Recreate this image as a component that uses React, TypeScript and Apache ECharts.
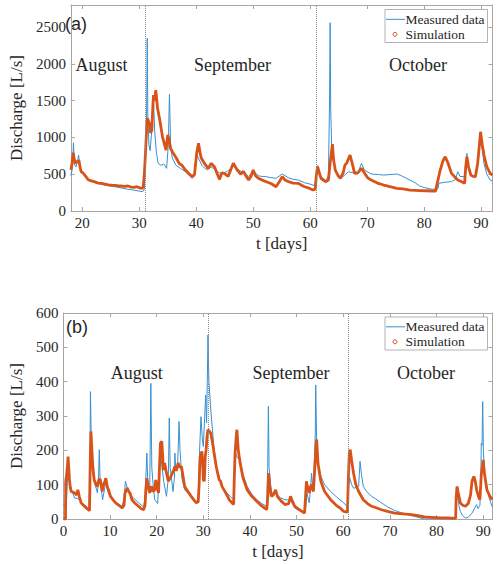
import React, { useEffect, useRef } from "react";
import * as echarts from "echarts";

// ---------- data ----------
const monthNames = ["August", "September", "October"];
const monthBoundaries = [31, 61];
const xTickLabels = [0, 10, 20, 30, 40, 50, 60, 70, 80, 90];
const yTicksA = [0, 500, 1000, 1500, 2000, 2500];
const yTicksB = [0, 100, 200, 300, 400, 500, 600];
const legendNames = ["Measured data", "Simulation"];
const panelNames = ["(a)", "(b)"];

// Panel (a): [day, discharge L/s]
const measuredA: number[][] = [
  [18.0, 480], [18.3, 600], [18.45, 928], [18.6, 640], [18.9, 600], [19.2, 700], [19.35, 760], [19.6, 600],
  [19.8, 530], [20.3, 500], [21.0, 430], [22.0, 390], [23.0, 370], [24.0, 350], [25.0, 340], [26.0, 325],
  [27.0, 310], [28.0, 295], [29.0, 285], [30.0, 270], [30.6, 262], [30.9, 300], [31.1, 700], [31.3, 1400],
  [31.4, 2347], [31.5, 1300], [31.7, 900], [31.9, 820], [32.2, 1100], [32.5, 1500], [32.7, 1100], [33.0, 800],
  [33.3, 650], [33.8, 620], [34.3, 640], [34.8, 580], [35.1, 900], [35.3, 1586], [35.5, 900], [35.8, 720],
  [36.4, 625], [37.2, 580], [38.1, 534], [38.8, 480], [39.3, 444], [39.7, 480], [40.1, 761], [40.5, 700],
  [41.0, 620], [41.5, 580], [42.0, 560], [42.6, 600], [43.2, 570], [44.1, 516], [44.9, 520], [45.5, 540],
  [46.5, 610], [47.2, 570], [48.3, 520], [49.2, 470], [50.0, 540], [50.9, 480], [51.5, 470], [52.3, 466],
  [53.0, 455], [54.0, 444], [55.1, 503], [56.2, 450], [57.0, 430], [57.9, 421], [59.0, 385], [60.0, 365],
  [60.8, 345], [61.0, 450], [61.3, 616], [61.9, 470], [62.7, 410], [63.2, 480], [63.4, 1500], [63.5, 2559],
  [63.6, 1400], [63.8, 800], [64.4, 557], [65.3, 450], [66.0, 480], [66.7, 534], [67.5, 520], [68.3, 500],
  [69.0, 648], [69.5, 557], [70.7, 503], [72.0, 495], [72.9, 489], [74.0, 495], [75.2, 503], [76.0, 480],
  [77.5, 421], [78.5, 380], [79.2, 340], [80.0, 320], [81.4, 295], [82.4, 300], [82.6, 376], [83.5, 390],
  [84.8, 398], [85.5, 430], [85.9, 534], [86.3, 470], [87.1, 466], [87.4, 600], [87.5, 784], [87.7, 600],
  [88.2, 490], [89.0, 470], [89.5, 700], [89.9, 1010], [90.2, 850], [90.5, 648], [91.0, 500], [91.6, 421],
  [92.0, 408],
];

const simulationA: number[][] = [
  [18.0, 560], [18.2, 650], [18.4, 792], [18.6, 700], [18.8, 648], [19.0, 680], [19.2, 660], [19.4, 693],
  [19.6, 600], [19.8, 534], [20.1, 520], [20.5, 480], [21.1, 421], [21.6, 410], [22.2, 395], [22.8, 380],
  [23.4, 376], [24.0, 365], [24.6, 355], [25.2, 350], [25.8, 348], [26.2, 344], [26.8, 340], [27.4, 335],
  [28.0, 340], [28.6, 325], [29.1, 322], [29.6, 330], [30.1, 315], [30.5, 308], [30.7, 330], [30.9, 516],
  [31.1, 800], [31.2, 965], [31.4, 1260], [31.6, 1230], [31.8, 1180], [32.0, 1060], [32.2, 1100], [32.4, 1450],
  [32.5, 1576], [32.7, 1500], [32.9, 1644], [33.2, 1400], [33.6, 1237], [34.1, 1000], [34.7, 829], [35.0, 1033],
  [35.2, 980], [35.5, 850], [36.0, 780], [36.5, 720], [37.0, 648], [37.5, 620], [38.1, 557], [38.7, 510],
  [39.3, 466], [39.7, 500], [40.1, 800], [40.4, 920], [40.7, 780], [40.9, 716], [41.5, 640], [42.1, 580],
  [42.6, 648], [43.2, 602], [43.6, 520], [44.1, 430], [44.5, 520], [44.9, 512], [45.6, 470], [46.5, 648],
  [47.2, 557], [47.8, 500], [48.3, 540], [48.7, 480], [49.2, 421], [49.6, 470], [50.0, 557], [50.4, 480],
  [50.9, 444], [51.6, 420], [52.3, 398], [53.2, 370], [54.0, 330], [54.6, 400], [55.1, 466], [55.6, 420],
  [56.2, 398], [57.0, 380], [57.9, 376], [58.5, 350], [59.0, 330], [59.8, 310], [60.5, 285], [60.9, 300],
  [61.1, 500], [61.3, 602], [61.6, 520], [61.9, 444], [62.3, 420], [62.7, 398], [63.2, 420], [63.5, 650],
  [63.9, 910], [64.1, 700], [64.4, 557], [64.9, 480], [65.3, 444], [65.8, 520], [66.1, 625], [66.4, 648],
  [67.0, 761], [67.4, 640], [67.8, 512], [68.4, 520], [69.0, 580], [69.5, 520], [70.1, 450], [70.7, 421],
  [71.8, 380], [72.9, 353], [74.0, 330], [75.2, 308], [76.3, 300], [77.5, 285], [78.5, 280], [79.2, 276],
  [80.3, 275], [81.4, 272], [82.0, 270], [82.3, 376], [82.8, 550], [83.3, 680], [83.7, 738], [84.2, 650],
  [84.8, 512], [85.3, 470], [85.9, 421], [86.5, 400], [87.1, 376], [87.3, 600], [87.5, 738], [87.8, 600],
  [88.2, 489], [88.6, 470], [89.0, 466], [89.4, 650], [89.7, 900], [89.9, 1077], [90.2, 900], [90.5, 761],
  [91.0, 600], [91.6, 512], [92.0, 489],
];

// Panel (b): [day, discharge L/s]
const measuredB: number[][] = [
  [0, 42], [0.4, 35], [0.7, 60], [0.9, 120], [1.0, 140], [1.2, 125], [1.5, 95], [2.0, 75], [2.4, 61],
  [3.0, 60], [3.5, 55], [4.0, 45], [4.9, 37], [5.5, 30], [5.7, 150], [5.8, 371], [5.95, 250], [6.2, 150],
  [6.6, 110], [7.3, 76], [7.5, 110], [7.7, 202], [7.85, 120], [8.4, 56], [8.8, 85], [9.1, 110], [9.5, 80],
  [10.1, 62], [11.2, 48], [12.6, 37], [13.0, 60], [13.3, 110], [13.7, 90], [14.7, 66], [16.1, 47], [17.2, 35],
  [17.5, 60], [17.9, 192], [18.1, 100], [18.5, 76], [18.75, 395], [18.95, 150], [19.3, 90], [19.6, 56],
  [20.2, 45], [20.5, 120], [20.7, 211], [21.0, 170], [21.5, 110], [22.1, 66], [22.5, 120], [22.7, 294],
  [22.9, 150], [23.5, 80], [23.8, 120], [23.9, 192], [24.1, 140], [24.5, 160], [24.8, 284], [25.0, 200],
  [25.4, 120], [26.0, 85], [27.4, 65], [28.5, 50], [29.0, 60], [29.2, 200], [29.5, 298], [29.8, 230],
  [30.0, 211], [30.3, 300], [30.5, 361], [30.7, 280], [30.85, 400], [31.0, 536], [31.2, 400], [31.6, 318],
  [32.3, 202], [33.0, 140], [33.4, 124], [33.6, 110], [34.0, 95], [34.8, 80], [35.8, 65], [36.5, 56],
  [36.7, 120], [36.9, 192], [37.2, 180], [37.9, 172], [38.5, 130], [39.4, 95], [40.5, 70], [41.5, 56],
  [42.5, 45], [43.6, 37], [43.8, 150], [43.95, 328], [44.1, 150], [44.6, 76], [45.5, 75], [46.5, 62],
  [47.5, 56], [48.7, 55], [49.6, 32], [50.5, 25], [51.7, 17], [52.0, 40], [52.2, 76], [52.7, 47], [53.0, 90],
  [53.2, 134], [53.4, 100], [53.7, 120], [54.0, 250], [54.1, 390], [54.3, 220], [54.6, 160], [55.2, 124],
  [56.0, 100], [57.3, 80], [58.5, 65], [60.1, 47], [60.9, 35], [61.0, 60], [61.3, 124], [61.8, 100],
  [62.2, 90], [63.0, 92], [63.3, 95], [63.6, 168], [63.9, 130], [64.3, 95], [65.0, 80], [66.1, 66],
  [67.0, 58], [68.2, 47], [69.5, 35], [71.0, 25], [72.5, 18], [74.6, 10], [76.0, 5], [77.4, 0], [80.9, 0],
  [83.5, 0], [84.1, 2], [84.3, 50], [84.5, 71], [84.8, 40], [85.1, 22], [85.6, 10], [86.2, 3], [86.8, 5],
  [87.6, 17], [88.3, 35], [88.6, 42], [88.9, 30], [89.3, 40], [89.5, 120], [89.6, 221], [89.75, 215],
  [89.9, 342], [90.05, 200], [90.3, 130], [90.8, 95], [91.3, 60], [91.9, 37], [92.0, 35],
];

const simulationB: number[][] = [
  [0, 0], [0.45, 0], [0.5, 110], [0.7, 130], [0.9, 160], [1.0, 182], [1.15, 150], [1.3, 114], [1.5, 90],
  [1.7, 80], [2.1, 78], [2.4, 76], [2.8, 70], [3.1, 85], [3.4, 66], [3.8, 47], [4.3, 40], [4.9, 32],
  [5.3, 28], [5.6, 24], [5.7, 120], [5.8, 200], [5.9, 255], [6.0, 230], [6.3, 153], [6.6, 114], [7.0, 100],
  [7.3, 95], [7.6, 115], [7.9, 115], [8.1, 100], [8.3, 80], [8.6, 100], [8.9, 110], [9.1, 119], [9.4, 95],
  [9.8, 80], [10.1, 66], [10.7, 55], [11.2, 47], [11.9, 40], [12.6, 32], [13.0, 40], [13.2, 75], [13.5, 85],
  [13.7, 90], [14.0, 80], [14.3, 75], [14.7, 56], [15.4, 45], [16.1, 37], [16.7, 30], [17.2, 27], [17.5, 40],
  [17.7, 90], [17.9, 119], [18.1, 100], [18.5, 76], [18.7, 90], [18.9, 95], [19.2, 80], [19.6, 85],
  [19.8, 114], [20.1, 90], [20.4, 76], [20.6, 150], [20.8, 221], [21.1, 226], [21.3, 180], [21.4, 143],
  [21.7, 163], [22.0, 140], [22.5, 110], [22.9, 120], [23.2, 129], [23.6, 140], [23.9, 153], [24.2, 140],
  [24.6, 163], [25.0, 150], [25.3, 153], [25.7, 120], [26.0, 95], [26.7, 80], [27.4, 66], [28.0, 55],
  [28.5, 47], [28.9, 50], [29.1, 100], [29.3, 180], [29.7, 197], [29.9, 150], [30.0, 114], [30.2, 110],
  [30.4, 180], [30.6, 202], [30.8, 240], [31.0, 260], [31.3, 255], [31.6, 250], [32.0, 220], [32.3, 192],
  [32.8, 150], [33.4, 114], [33.7, 110], [34.0, 95], [34.8, 76], [35.6, 55], [36.5, 42], [36.6, 100],
  [36.8, 190], [37.0, 230], [37.2, 260], [37.5, 200], [37.9, 163], [38.5, 120], [39.4, 85], [40.4, 66],
  [41.5, 51], [42.5, 38], [43.6, 27], [43.8, 60], [44.0, 134], [44.2, 100], [44.6, 66], [45.0, 70],
  [45.5, 85], [45.9, 65], [46.7, 52], [47.5, 42], [48.3, 45], [48.7, 66], [49.0, 55], [49.6, 37], [50.5, 28],
  [51.7, 17], [51.9, 60], [52.1, 110], [52.4, 90], [52.7, 76], [53.0, 95], [53.2, 100], [53.6, 80],
  [53.9, 150], [54.1, 200], [54.3, 231], [54.6, 160], [55.2, 110], [56.0, 80], [57.3, 56], [58.5, 40],
  [59.5, 30], [60.1, 22], [60.9, 20], [61.1, 120], [61.3, 190], [61.5, 202], [61.8, 170], [62.2, 134],
  [62.7, 100], [63.3, 80], [64.3, 56], [65.2, 45], [66.1, 37], [67.2, 32], [68.2, 27], [69.5, 22], [71.0, 17],
  [72.8, 15], [74.6, 13], [76.0, 10], [77.4, 6], [79.0, 5], [80.9, 3], [82.5, 3], [84.1, 2], [84.2, 60],
  [84.4, 95], [84.6, 80], [85.1, 47], [85.6, 40], [86.2, 37], [86.8, 45], [87.3, 70], [87.6, 110],
  [88.0, 124], [88.3, 110], [88.6, 85], [89.0, 65], [89.3, 56], [89.6, 130], [89.8, 150], [90.0, 172],
  [90.3, 130], [90.8, 85], [91.3, 70], [91.9, 56], [92.0, 55],
];

// ---------- styling ----------
const SERIF = "'Liberation Serif', 'Times New Roman', serif";
const SANS = "'Liberation Sans', Arial, sans-serif";
const AXIS = "#a6a6a6";
const TXT = "#262626";
const BLUE = "#3790d0";
const ORANGE = "#D95319";

function makeXAxes(gridIndex: number, min: number, max: number, showName: boolean) {
  const common = {
    type: "value" as const,
    gridIndex,
    min,
    max,
    splitNumber: 7,
    splitLine: { show: false },
    axisLine: { show: true, onZero: false, lineStyle: { color: AXIS, width: 1 } },
    axisTick: { show: true, inside: true, length: 4, lineStyle: { color: AXIS } },
  };
  return [
    {
      ...common,
      position: "bottom",
      axisLabel: {
        margin: 4,
        color: TXT,
        fontFamily: SERIF,
        fontSize: 15,
        formatter: (v: number) => (xTickLabels.includes(v) ? String(v) : ""),
      },
      name: showName ? "t [days]" : "",
      nameLocation: "middle",
      nameGap: 24,
      nameTextStyle: { fontFamily: SERIF, fontSize: 17, color: TXT },
    },
    { ...common, position: "top", axisLabel: { show: false } },
  ];
}

function makeYAxes(gridIndex: number, max: number, interval: number, ticks: number[], nameGap: number) {
  const common = {
    type: "value" as const,
    gridIndex,
    min: 0,
    max,
    interval,
    splitLine: { show: false },
    axisLine: { show: true, onZero: false, lineStyle: { color: AXIS, width: 1 } },
    axisTick: { show: true, inside: true, length: 4, lineStyle: { color: AXIS } },
  };
  return [
    {
      ...common,
      position: "left",
      axisLabel: {
        margin: 5,
        color: TXT,
        fontFamily: SERIF,
        fontSize: 15,
        formatter: (v: number) => (ticks.includes(v) ? String(v) : ""),
      },
      name: "Discharge [L/s]",
      nameLocation: "middle",
      nameRotate: 90,
      nameGap,
      nameTextStyle: { fontFamily: SERIF, fontSize: 17, color: TXT },
    },
    { ...common, position: "right", axisLabel: { show: false } },
  ];
}

function txt(text: string, x: number, y: number, size: number, family: string, align = "center") {
  return {
    type: "text",
    x,
    y,
    silent: true,
    style: {
      text,
      fill: TXT,
      font: `${size}px ${family}`,
      fontSize: size,
      fontFamily: family,
      align,
      verticalAlign: "middle",
      textAlign: align,
      textVerticalAlign: "middle",
    },
  };
}

function legendGraphic(dy: number) {
  return [
    {
      type: "rect",
      shape: { x: 385, y: 9.5 + dy, width: 102.5, height: 33 },
      style: { fill: "#ffffff", stroke: "#b3b3b3", lineWidth: 1 },
      silent: true,
    },
    {
      type: "line",
      shape: { x1: 386, y1: 19.3 + dy, x2: 405, y2: 19.3 + dy },
      style: { stroke: BLUE, lineWidth: 1 },
      silent: true,
    },
    {
      type: "circle",
      shape: { cx: 395, cy: 34.3 + dy, r: 2 },
      style: { fill: "none", stroke: ORANGE, lineWidth: 1 },
      silent: true,
    },
    txt(legendNames[0], 405.5, 19.3 + dy, 13.5, SERIF, "left"),
    txt(legendNames[1], 405.5, 34.3 + dy, 13.5, SERIF, "left"),
  ];
}

const boundaryMarkLine = {
  silent: true,
  symbol: ["none", "none"],
  label: { show: false },
  lineStyle: { color: "#8c8c8c", type: "dotted", width: 1 },
  data: monthBoundaries.map((d) => ({ xAxis: d })),
};

export default function App() {
  const ref = useRef<HTMLDivElement>(null);

  useEffect(() => {
    document.body.style.margin = "0";
    if (!ref.current) return;
    const chart = echarts.init(ref.current, undefined, { renderer: "svg" });
    const option: any = {
      animation: false,
      backgroundColor: "#ffffff",
      grid: [
        { left: 57, top: 5, width: 435.5, height: 206 },
        { left: 57, top: 313, width: 435.5, height: 206 },
      ],
      xAxis: [...makeXAxes(0, 18, 92, true), ...makeXAxes(1, 0, 92, true)],
      yAxis: [...makeYAxes(0, 2800, 500, yTicksA, 39), ...makeYAxes(1, 600, 100, yTicksB, 27.5)],
      series: [
        {
          name: legendNames[0],
          type: "line",
          xAxisIndex: 0,
          yAxisIndex: 0,
          data: measuredA,
          showSymbol: false,
          lineStyle: { color: BLUE, width: 1 },
          markLine: boundaryMarkLine,
          z: 2,
        },
        {
          name: legendNames[1],
          type: "line",
          xAxisIndex: 0,
          yAxisIndex: 0,
          data: simulationA,
          showSymbol: false,
          lineStyle: { color: ORANGE, width: 2.8 },
          z: 3,
        },
        {
          name: legendNames[0],
          type: "line",
          xAxisIndex: 2,
          yAxisIndex: 2,
          data: measuredB,
          showSymbol: false,
          lineStyle: { color: BLUE, width: 1 },
          markLine: boundaryMarkLine,
          z: 2,
        },
        {
          name: legendNames[1],
          type: "line",
          xAxisIndex: 2,
          yAxisIndex: 2,
          data: simulationB,
          showSymbol: false,
          lineStyle: { color: ORANGE, width: 2.8 },
          z: 3,
        },
      ],
      graphic: [
        txt(panelNames[0], 76, 24, 18, SANS),
        txt(panelNames[1], 77, 327, 18, SANS),
        txt(monthNames[0], 101.5, 65, 18, SERIF),
        txt(monthNames[1], 232.5, 65, 18, SERIF),
        txt(monthNames[2], 418, 65, 18, SERIF),
        txt(monthNames[0], 136.7, 373, 18, SERIF),
        txt(monthNames[1], 291, 373, 18, SERIF),
        txt(monthNames[2], 426, 373, 18, SERIF),
        ...legendGraphic(0),
        ...legendGraphic(307.5),
      ],
    };
    chart.setOption(option);
    return () => chart.dispose();
  }, []);

  return <div ref={ref} style={{ width: 500, height: 564 }} />;
}
